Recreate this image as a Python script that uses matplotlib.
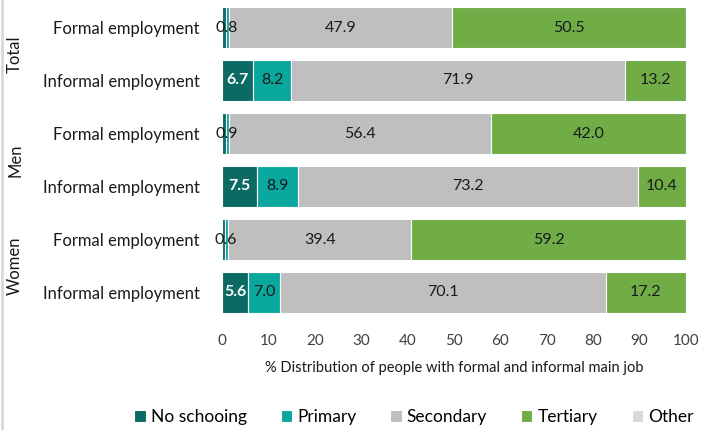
import matplotlib
matplotlib.use('Agg')
import matplotlib.pyplot as plt
from matplotlib.lines import Line2D
import numpy as np

plt.rcParams['font.family'] = ['Lato', 'DejaVu Sans']

groups = ['Total', 'Men', 'Women']
rows = ['Formal employment', 'Informal employment'] * 3
categories = ['No schooing', 'Primary', 'Secondary', 'Tertiary', 'Other']
colors = ['#0B6B64', '#0AA79E', '#BFBFBF', '#70AD47', '#D9D9D9']

no_school = [0.8, 6.7, 0.9, 7.5, 0.6, 5.6]
primary = [0.8, 8.2, 0.7, 8.9, 0.8, 7.0]
secondary = [47.9, 71.9, 56.4, 73.2, 39.4, 70.1]
tertiary = [50.5, 13.2, 42.0, 10.4, 59.2, 17.2]
other = [0.0, 0.0, 0.0, 0.0, 0.0, 0.1]
series = [no_school, primary, secondary, tertiary, other]

fig = plt.figure(figsize=(7.01, 4.30), dpi=100)
ax = fig.add_axes([222 / 701, 1 - 319 / 430, (686 - 222) / 701, (319 - 1) / 430])

y = np.arange(len(rows))
left = np.zeros(len(rows))
for i, (vals, c) in enumerate(zip(series, colors)):
    vals = np.array(vals)
    ax.barh(y, vals, left=left, height=0.76, color=c, edgecolor='white',
            linewidth=0.8, label=categories[i])
    for j, v in enumerate(vals):
        xc = left[j] + v / 2
        if i == 0:
            if v > 3:
                ax.text(xc, y[j], f'{v:.1f}', ha='center', va='center',
                        color='white', fontsize=11.5, fontweight='bold')
            else:
                ax.text(xc + 0.6, y[j], f'{v:.1f}', ha='center', va='center',
                        color='#1a1a1a', fontsize=11.5)
        elif i in (1,) and v > 3:
            ax.text(xc, y[j], f'{v:.1f}', ha='center', va='center',
                    color='#1a1a1a', fontsize=11.5)
        elif i in (2, 3):
            ax.text(xc, y[j], f'{v:.1f}', ha='center', va='center',
                    color='#1a1a1a', fontsize=11.5)
    left += vals

ax.set_xlim(0, 100)
ax.set_ylim(len(rows) - 0.5, -0.5)
ax.set_xticks(np.arange(0, 101, 10))
ax.tick_params(axis='x', length=0, labelsize=11, colors='#404040', pad=11)
ax.set_yticks(y)
ax.set_yticklabels(rows, fontsize=12, color='#1a1a1a')
ax.tick_params(axis='y', length=0, pad=16)
for s in ax.spines.values():
    s.set_visible(False)
ax.set_xlabel('% Distribution of people with formal and informal main job',
              fontsize=10.5, color='#1a1a1a', labelpad=9)

for k, g in enumerate(groups):
    yc = 2 * k + 0.5
    ax.text(-44.6, yc, g, rotation=90, ha='center', va='center',
            fontsize=12, color='#1a1a1a', transform=ax.transData)

handles, labels = ax.get_legend_handles_labels()
fig.legend(handles, labels, loc='center', bbox_to_anchor=(414 / 701, 1 - 417 / 430),
           ncol=5, frameon=False, fontsize=12.5, handlelength=0.65, handleheight=0.65,
           handletextpad=0.3, columnspacing=1.95)

fig.add_artist(Line2D([2 / 701, 2 / 701], [0, 1], color='#D9D9D9', linewidth=2,
                      transform=fig.transFigure))

fig.savefig('out.png', dpi=100)
